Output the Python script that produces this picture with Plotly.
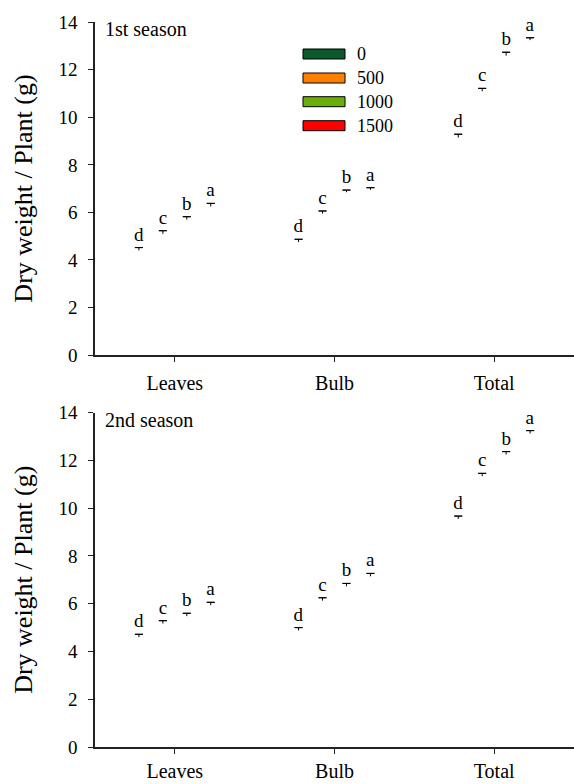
import plotly.graph_objects as go

# ---------------- data ----------------
categories = ["Leaves", "Bulb", "Total"]
doses = ["0", "500", "1000", "1500"]
colors = ["#0B5A2B", "#FF8000", "#6AAE0A", "#FF0000"]

# season 1 means (one list per dose, values per category)
s1_0 = [4.40, 4.75, 9.15]
s1_500 = [5.10, 5.95, 11.10]
s1_1000 = [5.70, 6.85, 12.60]
s1_1500 = [6.25, 6.95, 13.25]
s1_se_0 = [0.12, 0.12, 0.14]
s1_se_500 = [0.13, 0.11, 0.12]
s1_se_1000 = [0.12, 0.09, 0.14]
s1_se_1500 = [0.13, 0.09, 0.10]

# season 2 means
s2_0 = [4.60, 4.88, 9.55]
s2_500 = [5.17, 6.13, 11.34]
s2_1000 = [5.48, 6.73, 12.25]
s2_1500 = [5.94, 7.15, 13.13]
s2_se_0 = [0.12, 0.12, 0.12]
s2_se_500 = [0.12, 0.12, 0.12]
s2_se_1000 = [0.12, 0.12, 0.12]
s2_se_1500 = [0.12, 0.12, 0.12]

letters_0 = ["d", "d", "d"]
letters_500 = ["c", "c", "c"]
letters_1000 = ["b", "b", "b"]
letters_1500 = ["a", "a", "a"]

season_titles = ["1st season", "2nd season"]
y_title = "Dry weight / Plant (g)"
y_ticks = [0, 2, 4, 6, 8, 10, 12, 14]

season1 = [s1_0, s1_500, s1_1000, s1_1500]
season1_se = [s1_se_0, s1_se_500, s1_se_1000, s1_se_1500]
season2 = [s2_0, s2_500, s2_1000, s2_1500]
season2_se = [s2_se_0, s2_se_500, s2_se_1000, s2_se_1500]
letters = [letters_0, letters_500, letters_1000, letters_1500]

# ---------------- layout helpers ----------------
W, H = 574, 784
ML, MR, MT, MB = 95, 0, 0, 0
PW, PH = W - ML - MR, H - MT - MB


def px2x(px):
    return (px - ML) / PW


def px2y(py):
    return 1 - (py - MT) / PH


FONT = "Liberation Serif"
fig = go.Figure()

panels = [(season1, season1_se, "x", "y"), (season2, season2_se, "x2", "y2")]
for means_all, se_all, xa, ya in panels:
    for i, dose in enumerate(doses):
        means = means_all[i]
        se = se_all[i]
        # stem: from mean up to mean + se, no caps
        fig.add_trace(go.Bar(
            x=categories, y=means, name=dose, xaxis=xa, yaxis=ya,
            offsetgroup=str(i),
            marker=dict(color="rgba(0,0,0,0)", line=dict(width=0)),
            error_y=dict(type="data", symmetric=False, array=se,
                         arrayminus=[0] * len(se), color="black",
                         thickness=1, width=0),
            showlegend=False, hoverinfo="skip",
        ))
        # top cap + significance letter at mean + se
        fig.add_trace(go.Bar(
            x=categories, y=[m + s for m, s in zip(means, se)],
            xaxis=xa, yaxis=ya, offsetgroup=str(i),
            marker=dict(color="rgba(0,0,0,0)", line=dict(width=0)),
            error_y=dict(type="data", array=[0] * len(se), color="black",
                         thickness=1, width=4),
            text=letters[i], textposition="outside", constraintext="none",
            textfont=dict(family=FONT, size=19, color="black"),
            cliponaxis=False, showlegend=False, hoverinfo="skip",
        ))

axis_common = dict(showline=True, linecolor="#222", linewidth=1.5,
                   ticks="outside", ticklen=5, tickcolor="#222",
                   showgrid=False, zeroline=False)

top_dom = [px2y(355), px2y(22.3)]
bot_dom = [px2y(747), px2y(412.7)]

xt = dict(size=20, family=FONT, color="black")
yt = dict(size=19, family=FONT, color="black")

fig.update_layout(
    width=W, height=H,
    margin=dict(l=ML, r=MR, t=MT, b=MB, autoexpand=False),
    paper_bgcolor="white", plot_bgcolor="white",
    barmode="group", bargap=0.4, bargroupgap=0,
    font=dict(family=FONT, color="black"),
    showlegend=False,
    xaxis=dict(domain=[0, 1], range=[-0.5, 2.5], anchor="y",
               tickfont=xt, ticklabelstandoff=4, **axis_common),
    xaxis2=dict(domain=[0, 1], range=[-0.5, 2.5], anchor="y2",
                tickfont=xt, ticklabelstandoff=0, **axis_common),
    yaxis=dict(domain=top_dom, range=[0, 14], tickvals=y_ticks, anchor="x",
               tickfont=yt, ticklabelstandoff=7, **axis_common),
    yaxis2=dict(domain=bot_dom, range=[0, 14], tickvals=y_ticks, anchor="x2",
                tickfont=yt, ticklabelstandoff=7, **axis_common),
)

annotations = []
shapes = []
for k, (top_px, bot_px) in enumerate([(22.3, 355), (412.7, 747)]):
    annotations.append(dict(
        text=season_titles[k], xref="paper", yref="paper",
        x=px2x(103), y=px2y(top_px + 7), xanchor="left", yanchor="middle",
        showarrow=False, font=dict(size=20, family=FONT, color="black")))
    annotations.append(dict(
        text=y_title, xref="paper", yref="paper", textangle=-90,
        x=px2x(24), y=px2y((top_px + bot_px) / 2), xanchor="center",
        yanchor="middle", showarrow=False,
        font=dict(size=26, family=FONT, color="black")))

# manual legend
row_centers = [54, 78, 101.7, 125.7]
for dose, col, rc in zip(doses, colors, row_centers):
    shapes.append(dict(type="rect", xref="paper", yref="paper",
                       x0=px2x(303), x1=px2x(345),
                       y0=px2y(rc + 5), y1=px2y(rc - 5),
                       fillcolor=col, line=dict(color="black", width=1)))
    annotations.append(dict(
        text=dose, xref="paper", yref="paper", x=px2x(355), y=px2y(rc),
        xanchor="left", yanchor="middle", showarrow=False,
        font=dict(size=18, family=FONT, color="black")))

fig.update_layout(annotations=annotations, shapes=shapes)
fig.write_html(
    "out.html",
    config={"displayModeBar": False},
    post_script="document.body.style.margin='0px';"
                "document.body.style.overflow='hidden';",
)
